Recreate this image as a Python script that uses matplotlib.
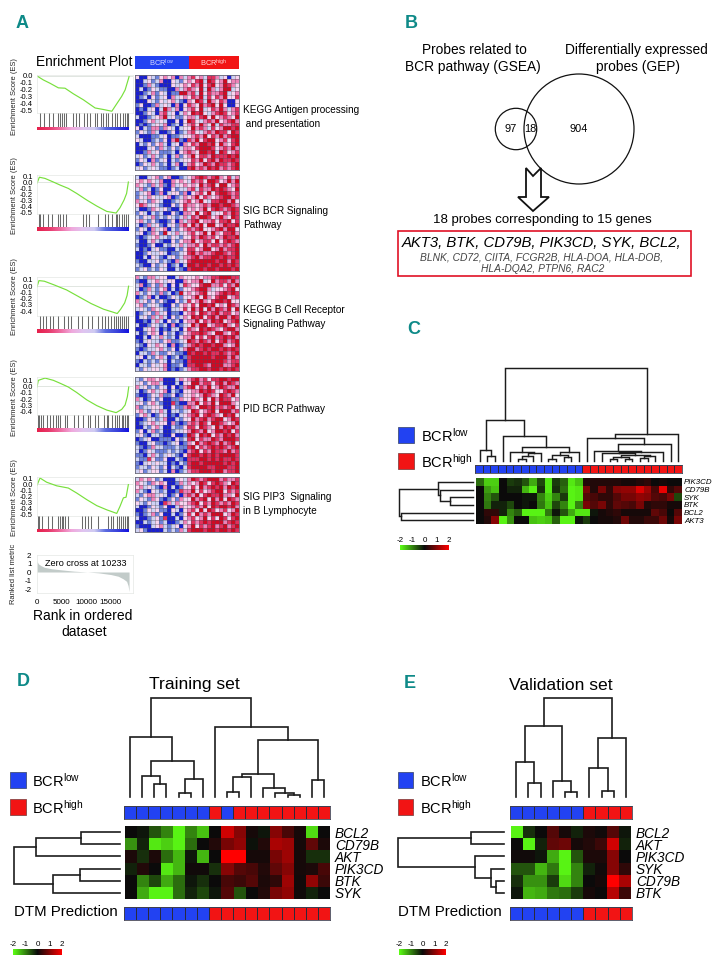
# figure panels A-E: GSEA enrichment plots, venn diagram, and BCR heatmaps
import numpy as np
import matplotlib
matplotlib.use('Agg')
import matplotlib.pyplot as plt
from matplotlib.colors import ListedColormap, LinearSegmentedColormap
from matplotlib.patches import Circle, Polygon, Rectangle

plt.rcParams['font.family'] = ['Liberation Sans', 'DejaVu Sans']
plt.rcParams['mathtext.fontset'] = 'custom'
plt.rcParams['mathtext.rm'] = 'Liberation Sans'
plt.rcParams['mathtext.it'] = 'Liberation Sans:italic'
plt.rcParams['axes.unicode_minus'] = False

W, H = 726, 964

# ----- panel A data -----
# enrichment score curves (rank, ES)
es_rank_1 = [0, 1300, 2640, 4340, 5690, 7380, 9400, 11800, 13500, 15200, 15850, 17200, 17900, 18700]
es_val_1 = [0, -.057, -.104, -.17, -.175, -.255, -.34, -.458, -.48, -.505, -.435, -.292, -.2, -.01]
es_rank_2 = [0, 480, 1630, 3320, 4675, 6370, 8060, 10100, 12130, 14170, 16070, 16870, 17680, 18200, 18560]
es_val_2 = [-.02, .08, .06, 0, -.05, -.107, -.19, -.3, -.4, -.49, -.517, -.427, -.3, -.19, 0]
es_rank_3 = [0, 400, 1500, 3500, 6000, 8500, 11000, 13500, 15500, 16300, 17000, 17800, 18300, 18600]
es_val_3 = [-.01, .09, .08, .02, -.06, -.17, -.28, -.37, -.42, -.44, -.37, -.27, -.15, 0]
es_rank_4 = [0, 270, 1630, 3320, 4670, 6370, 8060, 10100, 12130, 14170, 16070, 17200, 17900, 18360, 18630]
es_val_4 = [-.01, .095, .13, .095, .05, -.01, -.095, -.21, -.3, -.37, -.41, -.36, -.29, -.16, -.01]
es_rank_5 = [0, 610, 1960, 4000, 6370, 8060, 10100, 12130, 14170, 16200, 16870, 17550, 18090, 18560]
es_val_5 = [-.02, .1, .03, -.03, -.067, -.15, -.26, -.36, -.43, -.49, -.37, -.23, -.22, -.01]

# gene hit positions under each curve
hits_1 = [610, 1420, 2440, 3320, 4340, 4675, 5010, 5490, 5900, 7250, 7930, 8540, 9620, 10230, 10770, 11790, 12130,
          13000, 13480, 14030, 14500, 15180, 15850, 16330, 16870, 17410, 17890, 18360, 18560]
hits_2 = [470, 610, 1290, 2300, 2980, 4340, 4675, 5350, 5830, 9420, 9960, 10640, 12470, 13820, 14500, 15180, 16060,
          16330, 16730, 17210, 17680, 18090, 18560]
hits_3 = [700, 1300, 1900, 2600, 3300, 4200, 5400, 6200, 6900, 8300, 9100, 10400, 11200, 12400, 13200, 13900, 14400,
          15000, 15600, 16100, 16500, 16900, 17300, 17700, 18100, 18500]
hits_4 = [140, 410, 750, 1290, 1960, 2640, 3320, 3860, 4340, 4675, 5690, 6030, 7520, 8270, 9420, 10430, 10770, 11790,
          12470, 13620, 14160, 14500, 15180, 15850, 16330, 16730, 17210, 17550, 17890, 18230, 18560]
hits_5 = [140, 470, 950, 2300, 2980, 4340, 4675, 5010, 5350, 5690, 6370, 9080, 9760, 10430, 10910, 12470, 14500,
          14970, 15510, 16330, 16730, 17000, 17410, 17890, 18230, 18560]

# ranked metric
metric_rank = [0, 300, 800, 1500, 3000, 5000, 7500, 10233, 12500, 15000, 16500, 17500, 18200, 18500, 18700]
metric_val = [1.25, .95, .75, .55, .38, .25, .1, 0, -.1, -.3, -.5, -.8, -1.1, -1.6, -2.3]
rank_ticks = [0, 5000, 10000, 15000]

# pathway heatmaps, one digit per cell: 0 deep blue ... 6 deep red
heat_a1 = """30032134340424534255423023
00231240032134356265346344
00142100032343546356346543
02013211004245436264246623
00124132011664526354456234
01203123042343546253546335
00032132342104365264354003
13001423204035436456363003
01023026424034536235464245
00132045230243656324565345
20012346231134425636345436
00134232003036532454634564
01012324012034536436254455
30214414320233645425346656
13214200130124532454655365
20001123011233454635464566
32001213046105463566345356
02131342023043546656364356
00023142131244356665345464
00142311120345436656265345
23124212024134635546555656
13204123021233546356465565
01324212024024534654655456
23123211012005645465645456"""

heat_a2 = """20023413400123456545643524
34343240043432545366534646
43214241042343436456366345
24120130031224525446565436
12340140233140345363566545
13243223401243463543456645
42314320012345346325566463
35423210031354434546656654
20014323100253434635654565
13202120031044363562335465
21324121321242546653464365
34213100130424563445355635
20142310231453646366346556
13204234021345456334564663
23014316324234534636435564
10123422132133546545346556
20024210031344634553635654
10013002132424453645545456
20102311002135534663464556
00132232011235645445665456
00203210231244564556656556
10022312104235666666566465
21003123012026656656656565
12312132002105666566566656"""

heat_a3 = """42144233002433343445566655
10023432330043446236455464
24013142030254335664453546
20142134020133456642334563
42132141201634345633456565
01240200132133463643566345
42313131003125346435665633
34123210031343536656343654
23214321022353646364654636
01231423011034536545645534
02314242031243656356466465
00102420312034463546563456
20013212040123646634556435
00234201022035436565435664
20134303120134556543664356
00203242120344635356456564
10232213411236546546356456
21032432040124565665664346
10122342130246645656656565
02214211321106566565565456
23021342012015666665666464
10212132021105666666665455
02213234011205566546664456
21323324010124556656656565"""

heat_a4 = """21344340002434564535566566
23134420002033664553564654
42312132030145635463465446
20134234021033446565335654
10013241130133434654365463
42013130011433543636465534
23134210051004463546366643
41223320031145436656454563
34213242022123653456366645
13420132010234563565436563
00132124002133645645663465
01234233041014546536654346
00213420021135536543646564
13024120012234654634665635
23102210030016536563546564
01230011103125635446546665
10023110123014364565464563
21014221112115635456565456
20132111212104563546554645
11024212321035665656566665
21153113002105556656565565
10232322010215665666665656
12213213021025666655666556
23123312040124556665664556"""

heat_a5 = """24343120002324654566645445
43214343001424346535654365
34232104020133536456564656
42103212001544635345663545
21344232013045463565564436
13214310131433645636463654
32132205424334563546545465
20013213002433454636566564
00132311032034536365345346
10124130020135364546663465
20012315002034534635365356
00212312001243545656664565
10002342123034635456456456
23100002121425666566566565"""

# class bars: 0 BCRlow, 1 BCRhigh
classes_c = [0] * 14 + [1] * 13
classes_d = [0] * 7 + [1, 0] + [1] * 8
dtm_d = [0] * 7 + [1] * 10
classes_e = [0] * 6 + [1] * 4
dtm_e = [0] * 6 + [1] * 4

# ----- panel C, D, E expression -----
genes_c = ['PIK3CD', 'CD79B', 'SYK', 'BTK', 'BCL2', 'AKT3']
expr_c = [
    [-.8, -1.6, -1.6, 0, -.4, -.3, -.6, -1.3, -.5, -1.8, -.4, -.7, -1.8, -1.5, .2, .2, .2, .2, .2, .1, .1, .2, .3, 0, .1, 0, 0],
    [0, -1.2, -1.5, 0, -.2, -.2, -1.4, -1.9, -.3, -1.8, -.3, -.8, -1.9, -1.8, .9, .2, .9, .3, 1, 1.1, 1.1, 1.7, 1.2, .5, 1.8, .3, .6],
    [0, -1, -.6, 0, 0, 0, -.1, -.1, -1, -1.6, -1, -.4, -1.9, -1.8, .6, .5, .3, .3, .6, .9, .9, 1.1, 1, .6, .5, .9, -.5],
    [0, -.9, -.2, -.2, -.5, 0, -.1, 0, -.9, -1.5, -.5, -1, -1.9, -1, .9, .6, .9, .3, .7, .6, .5, .9, .2, .3, .3, .1, .1],
    [0, .3, .3, -.2, -1, -.7, -1.9, -1.9, -1.9, -.9, -.1, -.6, -1.3, -1.8, -1.8, -.1, .1, .2, .3, .1, .1, .1, .1, .7, .5, 0, .6],
    [0, .2, 1, -1.9, -1.1, 0, 0, -1.5, -1.6, -1.5, -.7, -1.9, -1.9, -.1, -.4, 0, .1, .1, .2, .8, .2, .2, .4, .4, .8, .1, .9],
]
genes_d = ['BCL2', 'CD79B', 'AKT', 'PIK3CD', 'BTK', 'SYK']
expr_d = [
    [0, -.1, -.6, -1, -1.9, -1, -1.5, 0, 1.6, 1, .1, -.1, 1, .5, .1, -1.7, 0],
    [-1.1, -.2, -1.8, -1.6, -1.9, -.8, 0, .2, .9, 1.1, -.05, .2, 1.3, 1.2, .1, .7, .15],
    [.15, -.3, .15, -.8, -1.4, -.1, -1.4, 0, 2, 2, .1, .1, .9, 1.2, .1, -.3, -.3],
    [-.2, .2, 0, -1.8, -1.4, .05, .05, -.3, 1, .6, .5, .2, .7, 1, .1, .15, .5],
    [0, -1, -.5, -1.3, -.8, -.1, -.3, 0, .5, .4, .6, .15, .3, 1.2, .05, 1.1, .4],
    [0, -1.3, -1.9, -1.9, -.8, -.2, -.5, -.1, .6, -.6, 0, .2, .9, 1.1, .05, -.2, 0],
]
genes_e = ['BCL2', 'AKT', 'PIK3CD', 'SYK', 'CD79B', 'BTK']
expr_e = [
    [-1.9, -.3, 0, .6, .1, -.2, .15, .05, .6, -.1],
    [0, -1.9, -.2, .7, .8, .1, .2, .4, 1.6, -.2],
    [.05, .05, -.1, -1.3, -1.9, -.6, .15, .15, 1, 0],
    [-.6, -.6, -1.4, -.9, -1.9, -1, -.2, .05, 1, .3],
    [-.3, -1.1, -1.1, -.4, -1.7, -1, 0, .1, 2, 1.3],
    [-.1, -1.4, -1.3, -.9, -.8, -.4, .1, 0, 1.4, .4],
]

# dendrogram merges (child, child, height); ids above n are earlier merges
top_c = [(5, 6, 2.5), (27, 7, 5), (28, 8, 8), (4, 29, 9), (9, 10, 2.5), (11, 12, 4), (31, 32, 6), (33, 13, 9),
         (30, 34, 14), (3, 35, 25), (1, 2, 5), (0, 37, 11), (38, 36, 41), (17, 18, 2), (19, 20, 2), (40, 41, 4),
         (21, 22, 3), (43, 23, 5), (42, 44, 6), (16, 45, 8), (46, 24, 9), (15, 47, 10), (48, 25, 17), (14, 49, 23),
         (50, 26, 27), (39, 51, 93)]
left_c = [(2, 3, 23), (1, 6, 33), (0, 7, 35), (4, 5, 72), (8, 9, 74)]
top_d = [(2, 3, 13.3), (1, 17, 20.7), (4, 5, 4), (19, 6, 18), (18, 20, 35.7), (0, 21, 60), (8, 9, 5), (23, 10, 19.7),
         (13, 14, 1.7), (12, 25, 4), (11, 26, 9), (24, 27, 23.3), (15, 16, 16.7), (28, 29, 57), (7, 30, 70),
         (22, 31, 99)]
left_d = [(0, 1, 39), (6, 2, 84), (3, 4, 40), (8, 5, 67), (7, 9, 106)]
top_e = [(1, 2, 14), (0, 10, 35), (4, 5, 4.7), (3, 12, 16), (11, 13, 70.7), (7, 8, 6.3), (6, 15, 29), (16, 9, 59),
         (14, 17, 99)]
left_e = [(0, 1, 32.7), (4, 5, 7.7), (3, 7, 12.7), (2, 8, 28.7), (6, 9, 106)]

# ----- styles -----
BLUE, RED = '#2242f2', '#f21414'
TEAL = '#0e8a88'
class_cmap = ListedColormap([BLUE, RED])
gsea_cmap = ListedColormap(['#1a1fd0', '#6d82dc', '#cfd2f4', '#f8d4f0', '#ee82b8', '#e2305e', '#cf0a24'])
expr_cmap = LinearSegmentedColormap.from_list('gbr', ['#5cff14', '#0a0a0a', '#ff0000'])
strip_cmap = LinearSegmentedColormap.from_list('strip', [
    '#e6204c', '#e8386a', '#ee6aa0', '#f0a8dc', '#e0c4f0', '#cfcbf2', '#5a6ae0', '#3a42dc', '#1412e0'])

fig = plt.figure(figsize=(W / 100, H / 100), dpi=100)


def add_ax(x0, y0, x1, y1):
    # axes from pixel box, y going down like the picture
    return fig.add_axes([x0 / W, 1 - y1 / H, (x1 - x0) / W, (y1 - y0) / H])


overlay = add_ax(0, 0, W, H)
overlay.set_xlim(0, W)
overlay.set_ylim(H, 0)
overlay.axis('off')
overlay.set_zorder(10)


def txt(x, y, s, size, ha='left', **kw):
    overlay.text(x, y, s, fontsize=size, ha=ha, va='center', **kw)


def panel_letter(x, y, s):
    txt(x, y, s, 13, color=TEAL, fontweight='bold')


def es_plot(top, hit_top, strip_top, strip_bot, ylim, ticks, rank, val, hits):
    ax = add_ax(37, top, 133, hit_top)
    ax.plot(rank, val, color='#78e03c', lw=0.85)
    ax.axhline(0, color='#d4dcd4', lw=0.5, zorder=0)
    ax.set_xlim(0, 19500)
    ax.set_ylim(*ylim)
    ax.set_xticks([])
    ax.set_yticks(ticks)
    ax.set_yticklabels(['%.1f' % t for t in ticks], fontsize=5.5)
    ax.tick_params(axis='y', length=0, pad=3, color='#cccccc')
    for s in ax.spines.values():
        s.set_color('#e4e8e4')
        s.set_linewidth(0.5)
    hx = add_ax(37, hit_top, 133, strip_bot)
    hx.vlines(hits, 0, 1, color='#6a6a6a', lw=0.75)
    hx.set_xlim(0, 19500)
    hx.set_ylim(0, 1)
    hx.axis('off')
    st = add_ax(37, strip_top, 129, strip_bot)
    st.imshow(np.linspace(0, 1, 200).reshape(1, -1), aspect='auto', cmap=strip_cmap)
    st.axis('off')


def gsea_heat(y0, y1, text):
    grid = np.array([[int(c) for c in row] for row in text.split()])
    ax = add_ax(135, y0, 239, y1)
    ax.pcolormesh(grid, cmap=gsea_cmap, vmin=0, vmax=6)
    ax.invert_yaxis()
    ax.set_xticks([])
    ax.set_yticks([])
    # thin see-through cell lines, the cells are only 4 px wide
    ax.vlines(np.arange(1, grid.shape[1]), 0, grid.shape[0], color='#4c4c5c', lw=0.45, alpha=0.55)
    ax.hlines(np.arange(1, grid.shape[0]), 0, grid.shape[1], color='#4c4c5c', lw=0.45, alpha=0.55)
    for s in ax.spines.values():
        s.set_color('#666677')
        s.set_linewidth(0.6)


def class_bar(box, values, lw=0.6):
    ax = add_ax(*box)
    ax.pcolormesh(np.array([values]), cmap=class_cmap, vmin=0, vmax=1, edgecolors='#2a2a3a', linewidth=lw)
    ax.set_xticks([])
    ax.set_yticks([])
    for s in ax.spines.values():
        s.set_color('#444455')
        s.set_linewidth(0.6)


def expr_heat(box, values, genes, size, label_pad):
    ax = add_ax(*box)
    ax.pcolormesh(np.array(values), cmap=expr_cmap, vmin=-2, vmax=2)
    ax.set_ylim(len(values), 0)
    ax.set_xticks([])
    ax.set_yticks(np.arange(len(genes)) + .5)
    ax.set_yticklabels(genes, fontsize=size, style='italic')
    ax.yaxis.tick_right()
    ax.tick_params(axis='y', length=0, pad=label_pad)
    for s in ax.spines.values():
        s.set_visible(False)


def dendro(box, n, merges, side, lw=1.2):
    ax = add_ax(*box)
    pos = list(range(n))
    hts = [0] * n
    for a, b, h in merges:
        px = [pos[a], pos[a], pos[b], pos[b]]
        py = [hts[a], h, h, hts[b]]
        if side == 'top':
            ax.plot(px, py, color='#1c1c1c', lw=lw, clip_on=False, solid_joinstyle='miter')
        else:
            ax.plot(py, px, color='#1c1c1c', lw=lw, clip_on=False, solid_joinstyle='miter')
        pos.append((pos[a] + pos[b]) / 2)
        hts.append(h)
    if side == 'top':
        ax.set_xlim(-.5, n - .5)
        ax.set_ylim(0, box[3] - box[1])
    else:
        ax.set_xlim(box[2] - box[0], 0)
        ax.set_ylim(n - .5, -.5)
    ax.axis('off')


def color_key(box):
    ax = add_ax(*box)
    ax.imshow(np.linspace(-2, 2, 200).reshape(1, -1), aspect='auto', cmap=expr_cmap, vmin=-2, vmax=2,
              extent=(-2, 2, 0, 1))
    ax.set_yticks([])
    ax.set_xticks([-2, -1, 0, 1, 2])
    ax.xaxis.tick_top()
    ax.tick_params(axis='x', length=0, pad=0.5, labelsize=5.8)
    for s in ax.spines.values():
        s.set_visible(False)


def bcr_legend(x0, x1, text_x, low_y, high_y, size=10.5):
    overlay.add_patch(Rectangle((x0, low_y - 8), x1 - x0, 16, fc=BLUE, ec='#44507a', lw=0.6))
    overlay.add_patch(Rectangle((x0, high_y - 8), x1 - x0, 16, fc=RED, ec='#884444', lw=0.6))
    txt(text_x, low_y + 1, r'BCR$^{\mathrm{low}}$', size)
    txt(text_x, high_y + 1, r'BCR$^{\mathrm{high}}$', size)


# ----- panel A -----
panel_letter(16, 24, 'A')
txt(36, 62, 'Enrichment Plot', 9.8)
head = add_ax(135, 56, 239, 69)
head.barh([0], [13.5], left=[0], height=1, color=BLUE)
head.barh([0], [12.5], left=[13.5], height=1, color=RED)
head.set_xlim(0, 26)
head.set_ylim(-.5, .5)
head.axis('off')
txt(162, 63, r'BCR$^{\mathrm{low}}$', 5.4, ha='center', color='#d8dcff')
txt(214, 63, r'BCR$^{\mathrm{high}}$', 5.4, ha='center', color='#ffd8d8')

es_ticks_6 = [0, -.1, -.2, -.3, -.4, -.5]
es_ticks_7 = [.1, 0, -.1, -.2, -.3, -.4, -.5]
es_ticks_6b = [.1, 0, -.1, -.2, -.3, -.4]
es_plot(75, 113, 127, 130, (-.53, .014), es_ticks_6, es_rank_1, es_val_1, hits_1)
es_plot(175, 214, 227, 231, (-.533, .117), es_ticks_7, es_rank_2, es_val_2, hits_2)
es_plot(277, 316, 329, 333, (-.48, .148), es_ticks_6b, es_rank_3, es_val_3, hits_3)
es_plot(377, 415, 428, 432, (-.447, .147), es_ticks_6b, es_rank_4, es_val_4, hits_4)
es_plot(477, 516, 529, 532, (-.533, .117), es_ticks_7, es_rank_5, es_val_5, hits_5)

for yc in [97, 196, 297, 398, 498]:
    txt(14, yc, 'Enrichment Score (ES)', 5.4, ha='center', rotation=90, color='#222222')

gsea_heat(75, 170, heat_a1)
gsea_heat(175, 271, heat_a2)
gsea_heat(275, 371, heat_a3)
gsea_heat(377, 473, heat_a4)
gsea_heat(477, 532, heat_a5)

txt(243, 110, 'KEGG Antigen processing', 7.2)
txt(243, 124, ' and presentation', 7.2)
txt(243, 211, 'SIG BCR Signaling', 7.2)
txt(243, 225, 'Pathway', 7.2)
txt(243, 310, 'KEGG B Cell Receptor', 7.2)
txt(243, 324, 'Signaling Pathway', 7.2)
txt(243, 409, 'PID BCR Pathway', 7.2)
txt(243, 497, 'SIG PIP3  Signaling', 7.2)
txt(243, 511, 'in B Lymphocyte', 7.2)

rk = add_ax(37, 555, 133, 593)
rk.fill_between(metric_rank, metric_val, 0, color='#c2cbc9', lw=0)
rk.set_xlim(0, 19500)
rk.set_ylim(-2.47, 2)
rk.set_yticks([2, 1, 0, -1, -2])
rk.set_xticks(rank_ticks)
rk.tick_params(axis='both', length=0, labelsize=5.8)
rk.tick_params(axis='y', pad=4)
rk.tick_params(axis='x', pad=4.5)
for s in rk.spines.values():
    s.set_color('#e4e8e4')
    s.set_linewidth(0.5)
txt(86, 564, 'Zero cross at 10233', 6.6, ha='center')
txt(14, 574, 'Ranked list metric', 5.4, ha='center', rotation=90, color='#222222')
txt(83, 616, 'Rank in ordered', 10, ha='center')
txt(84, 632, 'dataset', 10, ha='center')

# ----- panel B -----
panel_letter(405, 24, 'B')
txt(474, 50, 'Probes related to', 9.9, ha='center')
txt(473, 67, 'BCR pathway (GSEA)', 9.9, ha='center')
txt(636, 50, 'Differentially expressed', 9.9, ha='center')
txt(638, 67, 'probes (GEP)', 9.9, ha='center')
overlay.add_patch(Circle((516, 129), 20.7, fc='none', ec='#111111', lw=0.9))
overlay.add_patch(Circle((579, 129), 55, fc='none', ec='#111111', lw=0.9))
txt(511, 129, '97', 7.9, ha='center')
txt(530, 129, '18', 7.9, ha='center')
txt(579, 129, '904', 7.9, ha='center')
overlay.add_patch(Polygon([(526, 168), (533, 176), (541, 168), (541, 197), (549, 197), (533, 211), (518, 197),
                           (526, 197)], closed=True, fc='white', ec='#111111', lw=1.3))
txt(542, 220, '18 probes corresponding to 15 genes', 9.5, ha='center')
overlay.add_patch(Rectangle((398, 231), 293, 45, fc='none', ec='#e01226', lw=1.2))
txt(542, 243, 'AKT3, BTK, CD79B, PIK3CD, SYK, BCL2,', 10.7, ha='center', style='italic')
txt(542, 257, 'BLNK, CD72, CIITA, FCGR2B, HLA-DOA, HLA-DOB,', 7.4, ha='center', style='italic', color='#444444')
txt(543, 269, 'HLA-DQA2, PTPN6, RAC2', 7.4, ha='center', style='italic', color='#444444')

# ----- panel C -----
panel_letter(407, 329, 'C')
dendro((476, 368, 682, 461), 27, top_c, 'top', lw=1.05)
class_bar((475, 465, 682, 473), classes_c, lw=0.4)
expr_heat((476, 478, 682, 524), expr_c, genes_c, 5.7, 1.5)
dendro((398, 478, 473, 524), 6, left_c, 'left', lw=1.05)
bcr_legend(398, 414, 421, 435, 461)
color_key((400, 545, 449, 550))

# ----- panel D -----
panel_letter(17, 681, 'D')
txt(194, 685, 'Training set', 12.6, ha='center')
dendro((124, 698, 330, 797), 17, top_d, 'top')
class_bar((124, 806, 330, 819), classes_d)
expr_heat((125, 826, 330, 899), expr_d, genes_d, 9.8, 3.5)
dendro((14, 826, 120, 899), 6, left_d, 'left')
txt(14, 912, 'DTM Prediction', 10.8)
class_bar((124, 907, 330, 920), dtm_d)
bcr_legend(10, 26, 32, 780, 807)
color_key((13, 949, 62, 955))

# ----- panel E -----
panel_letter(404, 683, 'E')
txt(561, 685, 'Validation set', 12.6, ha='center')
dendro((510, 698, 632, 797), 10, top_e, 'top')
class_bar((510, 806, 632, 819), classes_e)
expr_heat((511, 826, 631, 899), expr_e, genes_e, 9.8, 3.5)
dendro((398, 826, 504, 899), 6, left_e, 'left')
txt(398, 912, 'DTM Prediction', 10.8)
class_bar((510, 907, 632, 920), dtm_e)
bcr_legend(398, 413, 420, 780, 807)
color_key((399, 949, 446, 955))

fig.savefig('out.png', dpi=100)
